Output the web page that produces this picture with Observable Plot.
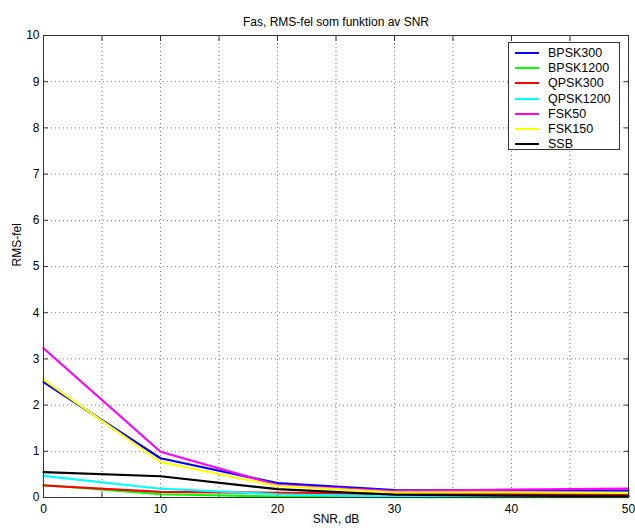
<!DOCTYPE html>
<html>
<head>
<meta charset="utf-8">
<script src="https://cdn.jsdelivr.net/npm/d3@7"></script>
<script src="https://cdn.jsdelivr.net/npm/@observablehq/plot@0.6"></script>
<style>
  html, body { margin: 0; padding: 0; background: #fff; }
  #wrap { position: relative; width: 635px; height: 532px; font-family: "Liberation Sans", Arial, sans-serif; }
  #legend { position: absolute; left: 508px; top: 42px; width: 112px; height: 108px; border: 1px solid #333; background: #fff; box-sizing: border-box; padding-top: 2px; }
  .row { height: 15.3px; display: flex; align-items: center; font-size: 12.5px; }
  .sw { width: 24px; height: 0; border-top: 2.5px solid; margin-left: 6px; margin-right: 9px; }
</style>
</head>
<body>
<div id="wrap"></div>
<script>
const snr = [0, 10, 20, 30, 40, 50];
const seriesNames = ["BPSK300", "BPSK1200", "QPSK300", "QPSK1200", "FSK50", "FSK150", "SSB"];
const seriesColors = ["#0000ff", "#00ff00", "#ff0000", "#00ffff", "#ff00ff", "#ffff00", "#000000"];
const BPSK300  = [2.50, 0.85, 0.31, 0.16, 0.15, 0.15];
const BPSK1200 = [0.27, 0.07, 0.02, 0.01, 0.01, 0.01];
const QPSK300  = [0.26, 0.12, 0.10, 0.08, 0.08, 0.08];
const QPSK1200 = [0.47, 0.19, 0.07, 0.02, 0.02, 0.02];
const FSK50    = [3.23, 0.99, 0.27, 0.14, 0.17, 0.19];
const FSK150   = [2.55, 0.77, 0.25, 0.11, 0.11, 0.10];
const SSB      = [0.55, 0.46, 0.18, 0.06, 0.04, 0.03];
const seriesValues = [BPSK300, BPSK1200, QPSK300, QPSK1200, FSK50, FSK150, SSB];
const xTicks = [0, 5, 10, 15, 20, 25, 30, 35, 40, 45, 50];
const xTickLabels = ["0", "", "10", "", "20", "", "30", "", "40", "", "50"];
const yTicks = [0, 1, 2, 3, 4, 5, 6, 7, 8, 9, 10];
const titleText = "Fas, RMS-fel som funktion av SNR";
const xLabel = "SNR, dB";
const yLabel = "RMS-fel";

const data = [];
seriesNames.forEach((name, i) => {
  snr.forEach((x, j) => data.push({series: name, snr: x, v: seriesValues[i][j]}));
});

const fontFamily = "Liberation Sans, Arial, sans-serif";
const chart = Plot.plot({
  width: 635,
  height: 532,
  marginLeft: 43,
  marginRight: 7,
  marginTop: 35,
  marginBottom: 35,
  style: {fontFamily, fontSize: "12px", background: "#fff", color: "#000"},
  x: {domain: [0, 50]},
  y: {domain: [0, 10]},
  color: {domain: seriesNames, range: seriesColors},
  marks: [
    Plot.gridX(xTicks, {stroke: "#888", strokeOpacity: 1, strokeDasharray: "1,3"}),
    Plot.gridY(yTicks, {stroke: "#888", strokeOpacity: 1, strokeDasharray: "1,3"}),
    Plot.axisX(xTicks, {anchor: "bottom", tickSize: -5, tickPadding: 12, stroke: "#333", tickFormat: (d, i) => xTickLabels[xTicks.indexOf(d)], fontSize: 12, label: null}),
    Plot.axisX(xTicks, {anchor: "top", tickSize: -5, stroke: "#333", tickFormat: () => "", label: null}),
    Plot.axisY(yTicks, {anchor: "left", tickSize: -5, tickPadding: 9, stroke: "#333", fontSize: 12, label: null}),
    Plot.axisY(yTicks, {anchor: "right", tickSize: -5, stroke: "#333", tickFormat: () => "", label: null}),
    Plot.line(data, {x: "snr", y: "v", z: "series", stroke: "series", strokeWidth: 2.2}),
    Plot.frame({stroke: "#333"}),
    Plot.text([titleText], {frameAnchor: "top", dy: -18, fontSize: 12}),
    Plot.text([xLabel], {frameAnchor: "bottom", dy: 25, fontSize: 12}),
    Plot.text([yLabel], {frameAnchor: "left", dx: -26, rotate: -90, fontSize: 12})
  ]
});
const wrap = document.getElementById("wrap");
wrap.appendChild(chart);

const legend = document.createElement("div");
legend.id = "legend";
seriesNames.forEach((name, i) => {
  const row = document.createElement("div");
  row.className = "row";
  const sw = document.createElement("span");
  sw.className = "sw";
  sw.style.borderTopColor = seriesColors[i];
  const lab = document.createElement("span");
  lab.textContent = name;
  row.appendChild(sw);
  row.appendChild(lab);
  legend.appendChild(row);
});
wrap.appendChild(legend);
</script>
</body>
</html>
